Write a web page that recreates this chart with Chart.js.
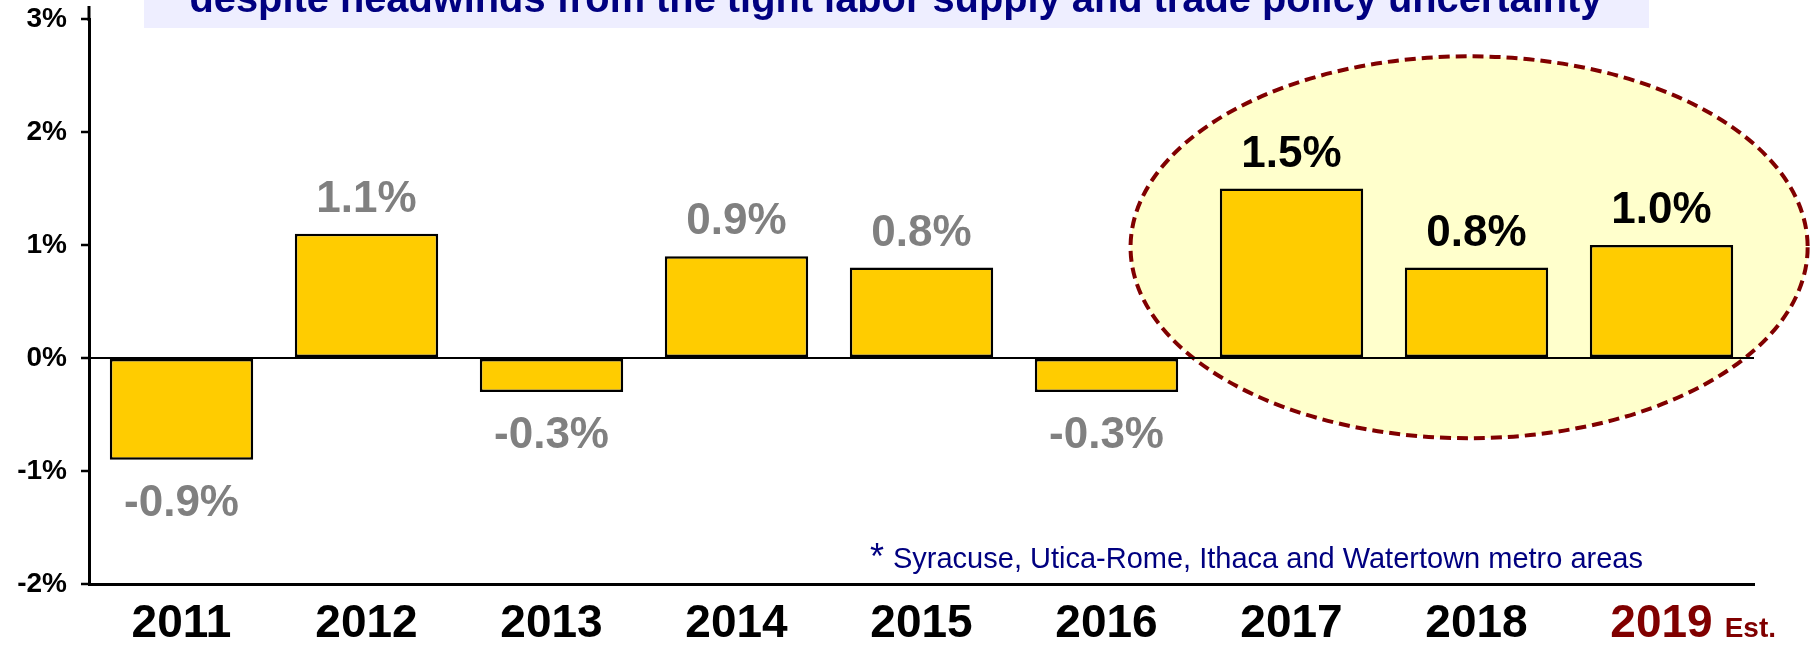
<!DOCTYPE html>
<html>
<head>
<meta charset="utf-8">
<script src="https://cdn.jsdelivr.net/npm/chart.js@4/dist/chart.umd.min.js"></script>
<style>
  html, body { margin: 0; padding: 0; background: #fff; }
  #wrap { width: 1814px; height: 646px; position: relative; }
</style>
</head>
<body>
<div id="wrap"><canvas id="myChart"></canvas></div>
<script>
  const years = ['2011', '2012', '2013', '2014', '2015', '2016', '2017', '2018', '2019'];
  const growth = [-0.9, 1.1, -0.3, 0.9, 0.8, -0.3, 1.5, 0.8, 1.0];
  const yMin = -2;
  const yMax = 3;
  const recentFrom = 6; // 2017 onward: black labels, inside the ellipse
  const estimateIndex = 8;

  const titleText = 'despite headwinds from the tight labor supply and trade policy uncertainty';
  const footnoteMark = '*';
  const footnote = 'Syracuse, Utica-Rome, Ithaca and Watertown metro areas';
  const estText = 'Est.';

  // highlight ellipse, in data units (category index, percent)
  const ellipseCenter = [6.96, 0.98];
  const ellipseRadius = [1.83, 1.69];

  const FONT = '"Liberation Sans", Arial, sans-serif';

  const decorations = {
    id: 'decorations',
    beforeDraw(chart) {
      const ctx = chart.ctx;
      const x = chart.scales.x, y = chart.scales.y;

      // title box (cut at top of slide)
      ctx.save();
      ctx.fillStyle = '#EEEEFF';
      ctx.fillRect(144, 0, 1505, 28);
      ctx.fillStyle = '#000080';
      ctx.font = 'bold 33px ' + FONT;
      const w = ctx.measureText(titleText).width;
      const size = 33 * 1413 / w;
      ctx.font = 'bold ' + size.toFixed(1) + 'px ' + FONT;
      ctx.textAlign = 'center';
      ctx.textBaseline = 'alphabetic';
      ctx.fillText(titleText, 896, 12);
      ctx.restore();

      // ellipse
      const cx = x.getPixelForValue(ellipseCenter[0]);
      const cy = y.getPixelForValue(ellipseCenter[1]);
      const rx = Math.abs(x.getPixelForValue(ellipseCenter[0] + ellipseRadius[0]) - cx);
      const ry = Math.abs(y.getPixelForValue(ellipseCenter[1] + ellipseRadius[1]) - cy);
      ctx.save();
      ctx.beginPath();
      ctx.ellipse(cx, cy, rx, ry, 0, 0, Math.PI * 2);
      ctx.fillStyle = '#FFFFCC';
      ctx.fill();
      ctx.setLineDash([11, 6]);
      ctx.lineWidth = 4;
      ctx.strokeStyle = '#800000';
      ctx.stroke();
      ctx.restore();

      // y axis line runs a little past the top tick
      ctx.save();
      ctx.strokeStyle = '#000000';
      ctx.lineWidth = 3;
      ctx.beginPath();
      ctx.moveTo(chart.chartArea.left, 6);
      ctx.lineTo(chart.chartArea.left, chart.chartArea.top + 2);
      ctx.stroke();
      ctx.restore();
    },
    afterDatasetsDraw(chart) {
      const ctx = chart.ctx;
      const bars = chart.getDatasetMeta(0).data;
      ctx.save();
      ctx.font = 'bold 44px ' + FONT;
      ctx.textAlign = 'center';
      ctx.textBaseline = 'alphabetic';
      bars.forEach((bar, i) => {
        const v = growth[i];
        ctx.fillStyle = i >= recentFrom ? '#000000' : '#808080';
        const label = v.toFixed(1) + '%';
        if (v >= 0) {
          ctx.fillText(label, bar.x, bar.y - 22);
        } else {
          ctx.fillText(label, bar.x, bar.y + 56);
        }
      });
      ctx.restore();
    },
    afterDraw(chart) {
      const ctx = chart.ctx;
      const x = chart.scales.x;
      const area = chart.chartArea;

      // footnote
      ctx.save();
      ctx.font = '29px ' + FONT;
      ctx.fillStyle = '#000080';
      ctx.textAlign = 'right';
      ctx.textBaseline = 'alphabetic';
      const fx = area.right - 111;
      const fy = area.bottom - 16;
      ctx.fillText(footnote, fx, fy);
      const fw = ctx.measureText(footnote).width;
      ctx.font = '36px ' + FONT;
      ctx.fillText(footnoteMark, fx - fw - 9, fy + 1);
      ctx.restore();

      // "Est." after 2019
      ctx.save();
      ctx.font = 'bold 46px ' + FONT;
      ctx.textBaseline = 'middle';
      const m = ctx.measureText(years[estimateIndex]);
      const midY = x.top + 13 + 46 * 1.2 / 2;
      const baseY = midY + m.actualBoundingBoxDescent;
      const px = x.getPixelForValue(estimateIndex) + m.width / 2 + 12;
      ctx.font = 'bold 28px ' + FONT;
      ctx.textBaseline = 'alphabetic';
      ctx.textAlign = 'left';
      ctx.fillStyle = '#800000';
      ctx.fillText(estText, px, baseY);
      ctx.restore();
    }
  };

  const data = {
    labels: years,
    datasets: [{
      label: 'growth',
      data: growth,
      backgroundColor: '#FFCC00',
      borderColor: '#000000',
      borderWidth: 2.5,
      borderSkipped: false,
      barPercentage: 0.775,
      categoryPercentage: 1.0
    }]
  };

  const config = {
    type: 'bar',
    data: data,
    plugins: [decorations],
    options: {
      responsive: true,
      maintainAspectRatio: false,
      animation: false,
      layout: { padding: { top: 19, right: 60, bottom: 0, left: 0 } },
      plugins: {
        legend: { display: false },
        tooltip: { enabled: false }
      },
      scales: {
        x: {
          afterFit(scale) {
            scale.height = 62;
            scale.paddingTop = 0;
            scale.paddingBottom = 0;
          },
          grid: { display: false, drawTicks: false },
          border: { display: true, color: '#000000', width: 3 },
          ticks: {
            padding: 13,
            font: { family: FONT, size: 46, weight: 'bold' },
            color: (c) => c.index === estimateIndex ? '#800000' : '#000000'
          }
        },
        y: {
          min: yMin,
          max: yMax,
          afterFit(scale) {
            scale.width = 89;
            scale.paddingTop = 0;
            scale.paddingBottom = 0;
          },
          border: { display: true, color: '#000000', width: 3 },
          grid: {
            drawOnChartArea: true,
            color: (c) => (c.tick && c.tick.value === 0) ? '#000000' : 'rgba(0,0,0,0)',
            lineWidth: 2,
            tickColor: '#000000',
            tickLength: 8,
            tickWidth: 2.5
          },
          ticks: {
            stepSize: 1,
            padding: 14,
            color: '#000000',
            font: { family: FONT, size: 28, weight: 'bold' },
            callback: (v) => v + '%'
          }
        }
      }
    }
  };

  const myChart = new Chart(
    document.getElementById('myChart'),
    config
  );
</script>
</body>
</html>
